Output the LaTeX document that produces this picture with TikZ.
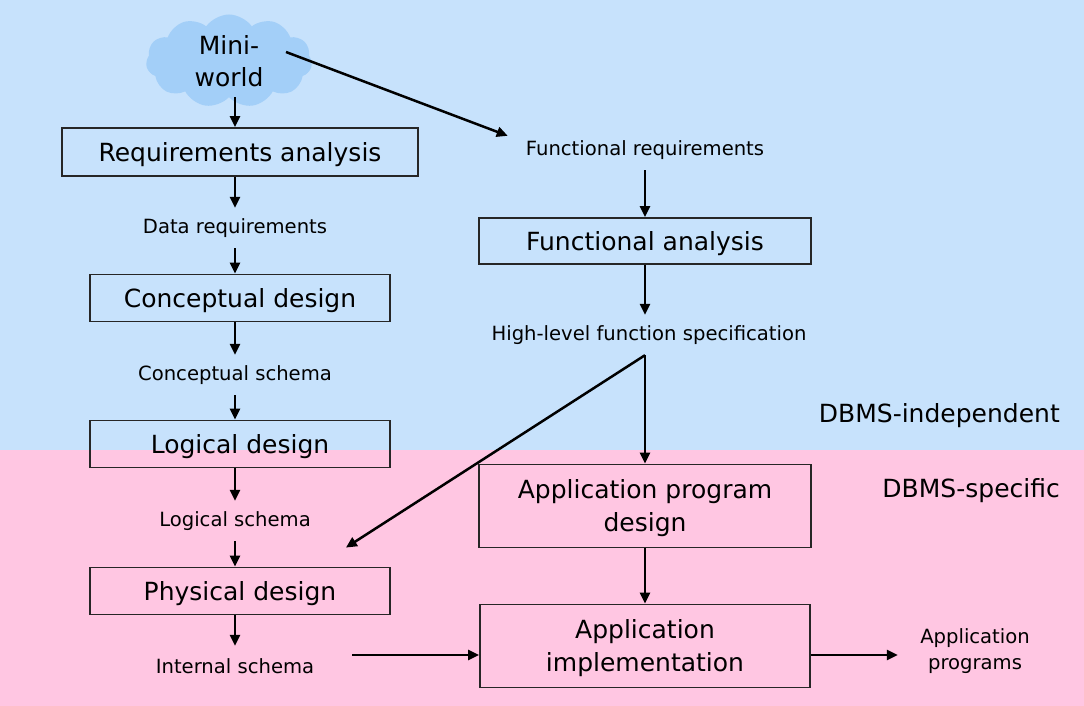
\documentclass[tikz,border=0pt]{standalone}
\usepackage{fontspec}
\setmainfont{DejaVu Sans}
\usepackage{tikz}
\usetikzlibrary{arrows.meta}
\usetikzlibrary{shapes.symbols}

\definecolor{indepblue}{RGB}{199,226,252}
\definecolor{specpink}{RGB}{255,198,226}
\definecolor{cloudblue}{RGB}{163,207,248}

\begin{document}
\begin{tikzpicture}[x=1pt, y=-1pt,
    box/.style={draw=black!85, line width=1.8pt, inner sep=0pt, align=center,
        text height=18.3pt, text depth=0pt, font=\fontsize{25}{33}\selectfont},
    twoline/.style={text height=51.3pt},
    lbl/.style={inner sep=0pt, minimum height=40pt, align=center,
        font=\fontsize{19.6}{26}\selectfont},
    arr/.style={line width=2.5pt, -{Triangle[length=11pt, width=10pt]}}]
\fill[indepblue] (0, 0) rectangle (1084, 450);
\fill[specpink] (0, 450) rectangle (1084, 706);
\useasboundingbox (0, 0) rectangle (1084, 706);

\node[cloud, cloud puffs=11, cloud puff arc=110, aspect=1.7, fill=cloudblue,
    minimum width=166pt, minimum height=93pt, inner sep=0pt, align=center,
    font=\fontsize{25}{32}\selectfont] (mini) at (229, 61) {Mini-\\world};

\node[box, minimum width=356pt, minimum height=48pt] (req) at (240, 152) {Requirements analysis};
\node[lbl] (datareq) at (235, 228) {Data requirements};
\node[box, minimum width=300pt, minimum height=47pt] (concept) at (240, 298) {Conceptual design};
\node[lbl] (cschema) at (235, 375) {Conceptual schema};
\node[box, minimum width=300pt, minimum height=47pt] (logical) at (240, 444) {Logical design};
\node[lbl] (lschema) at (235, 521) {Logical schema};
\node[box, minimum width=300pt, minimum height=47pt] (physical) at (240, 591) {Physical design};
\node[lbl] (ischema) at (235, 666) {Internal schema};

\node[lbl] (funcreq) at (645, 150) {Functional requirements};
\node[box, minimum width=332pt, minimum height=46pt] (funcana) at (645, 241) {Functional analysis};
\node[lbl] (hlspec) at (649, 335) {High-level function specification};
\node[box, twoline, minimum width=332pt, minimum height=83pt] (apdesign) at (645, 506) {Application program\\design};
\node[box, twoline, minimum width=330pt, minimum height=83pt] (apimpl) at (645, 646) {Application\\implementation};
\node[lbl] (approg) at (975, 651) {Application\\programs};

\node[anchor=east, inner sep=0pt, font=\fontsize{25}{30}\selectfont] (indep) at (1060, 416) {DBMS-independent};
\node[anchor=east, inner sep=0pt, font=\fontsize{25}{30}\selectfont] (spec) at (1060, 491) {DBMS-specific};

% data side
\draw[arr] (datareq.north |- mini.south) -- (datareq.north |- req.north);
\draw[arr] (datareq.north |- req.south) -- (datareq.north);
\draw[arr] (datareq.south) -- (datareq.south |- concept.north);
\draw[arr] (cschema.north |- concept.south) -- (cschema.north);
\draw[arr] (cschema.south) -- (cschema.south |- logical.north);
\draw[arr] (lschema.north |- logical.south) -- (lschema.north);
\draw[arr] (lschema.south) -- (lschema.south |- physical.north);
\draw[arr] (ischema.north |- physical.south) -- (ischema.north);

% function side
\coordinate (mwout) at (286, 52);
\draw[arr] (mwout) -- ([xshift=-18pt, yshift=-6pt]funcreq.north west);
\draw[arr] (funcreq.south) -- (funcreq.south |- funcana.north);
\draw[arr] (funcana.south) -- (funcana.south |- hlspec.north);
\coordinate (split) at (hlspec.south -| apdesign.north);
\draw[arr] (split) -- (apdesign.north);
\draw[arr] (split) -- ([xshift=-45pt, yshift=19pt]physical.north east);
\draw[arr] (apdesign.south) -- (apimpl.north);

\coordinate (isend) at (352, 655);
\draw[arr] (isend) -- (isend -| apimpl.west);
\draw[arr] (apimpl.east |- isend) -- ++(87, 0);
\end{tikzpicture}
\end{document}
